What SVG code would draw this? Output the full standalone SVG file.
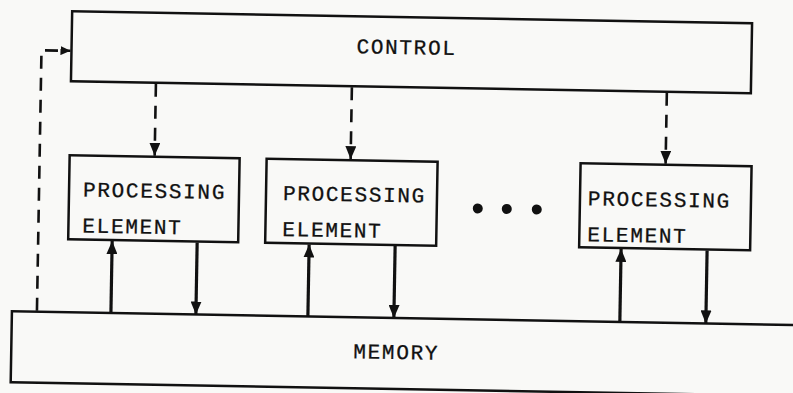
<svg xmlns="http://www.w3.org/2000/svg" width="793" height="393" viewBox="0 0 793 393">
  <defs>
    <style>
      .box { fill: none; stroke: #111; stroke-width: 2.5; }
      .lbl { font-family: "Liberation Mono", "Courier New", monospace; font-size: 21px; letter-spacing: 1.7px; fill: #111; stroke: #111; stroke-width: 0.3; }
      .solid { stroke: #111; stroke-width: 3.2; fill: none; }
      .dash { stroke: #111; stroke-width: 2.6; fill: none; stroke-dasharray: 13 9; }
    </style>
    <marker id="head" markerUnits="userSpaceOnUse" viewBox="0 0 13 11" markerWidth="13" markerHeight="11" refX="13" refY="5.5" orient="auto">
      <path d="M0,0 L13,5.5 L0,11 z" fill="#111"/>
    </marker>
    <marker id="headSmall" markerUnits="userSpaceOnUse" viewBox="0 0 10 9" markerWidth="10" markerHeight="9" refX="10" refY="4.5" orient="auto">
      <path d="M0,0 L10,4.5 L0,9 z" fill="#111"/>
    </marker>
  </defs>
  <rect width="793" height="393" fill="#f9f9f7"/>
  <g transform="rotate(1 396 196)">
    <g id="control">
      <rect class="box" x="69" y="17" width="680" height="70"/>
      <text class="lbl" x="404" y="54" text-anchor="middle">CONTROL</text>
    </g>
    <g id="pe1">
      <rect class="box" x="69" y="161" width="170" height="84"/>
      <text class="lbl" x="83" y="202">PROCESSING</text>
      <text class="lbl" x="83" y="238">ELEMENT</text>
    </g>
    <g id="pe2">
      <rect class="box" x="266" y="161" width="171" height="84"/>
      <text class="lbl" x="283" y="202">PROCESSING</text>
      <text class="lbl" x="283" y="238">ELEMENT</text>
    </g>
    <g id="ellipsis">
      <circle cx="478" cy="207" r="5" fill="#111"/>
      <circle cx="507" cy="207" r="5" fill="#111"/>
      <circle cx="537" cy="207" r="5" fill="#111"/>
    </g>
    <g id="pe3">
      <rect class="box" x="580" y="160" width="171" height="84"/>
      <text class="lbl" x="588" y="202">PROCESSING</text>
      <text class="lbl" x="588" y="238">ELEMENT</text>
    </g>
    <g id="memory">
      <rect class="box" x="14" y="318" width="820" height="71"/>
      <text class="lbl" x="399" y="359" text-anchor="middle">MEMORY</text>
    </g>
    <g id="connectors">
      <line class="dash" x1="154" y1="88" x2="154" y2="160" marker-end="url(#head)"/>
      <line class="dash" x1="350" y1="88" x2="350" y2="160" marker-end="url(#head)"/>
      <line class="dash" x1="665" y1="88" x2="665" y2="159" marker-end="url(#head)"/>
      <path class="dash" d="M39,317 L39,56.5 L68,56.5" marker-end="url(#headSmall)"/>
      <line class="solid" x1="113" y1="318" x2="113" y2="246" marker-end="url(#head)"/>
      <line class="solid" x1="198" y1="246" x2="198" y2="318" marker-end="url(#head)"/>
      <line class="solid" x1="310" y1="318" x2="310" y2="246" marker-end="url(#head)"/>
      <line class="solid" x1="396" y1="246" x2="396" y2="318" marker-end="url(#head)"/>
      <line class="solid" x1="622" y1="318" x2="622" y2="245" marker-end="url(#head)"/>
      <line class="solid" x1="708" y1="245" x2="708" y2="318" marker-end="url(#head)"/>
    </g>
  </g>
</svg>
